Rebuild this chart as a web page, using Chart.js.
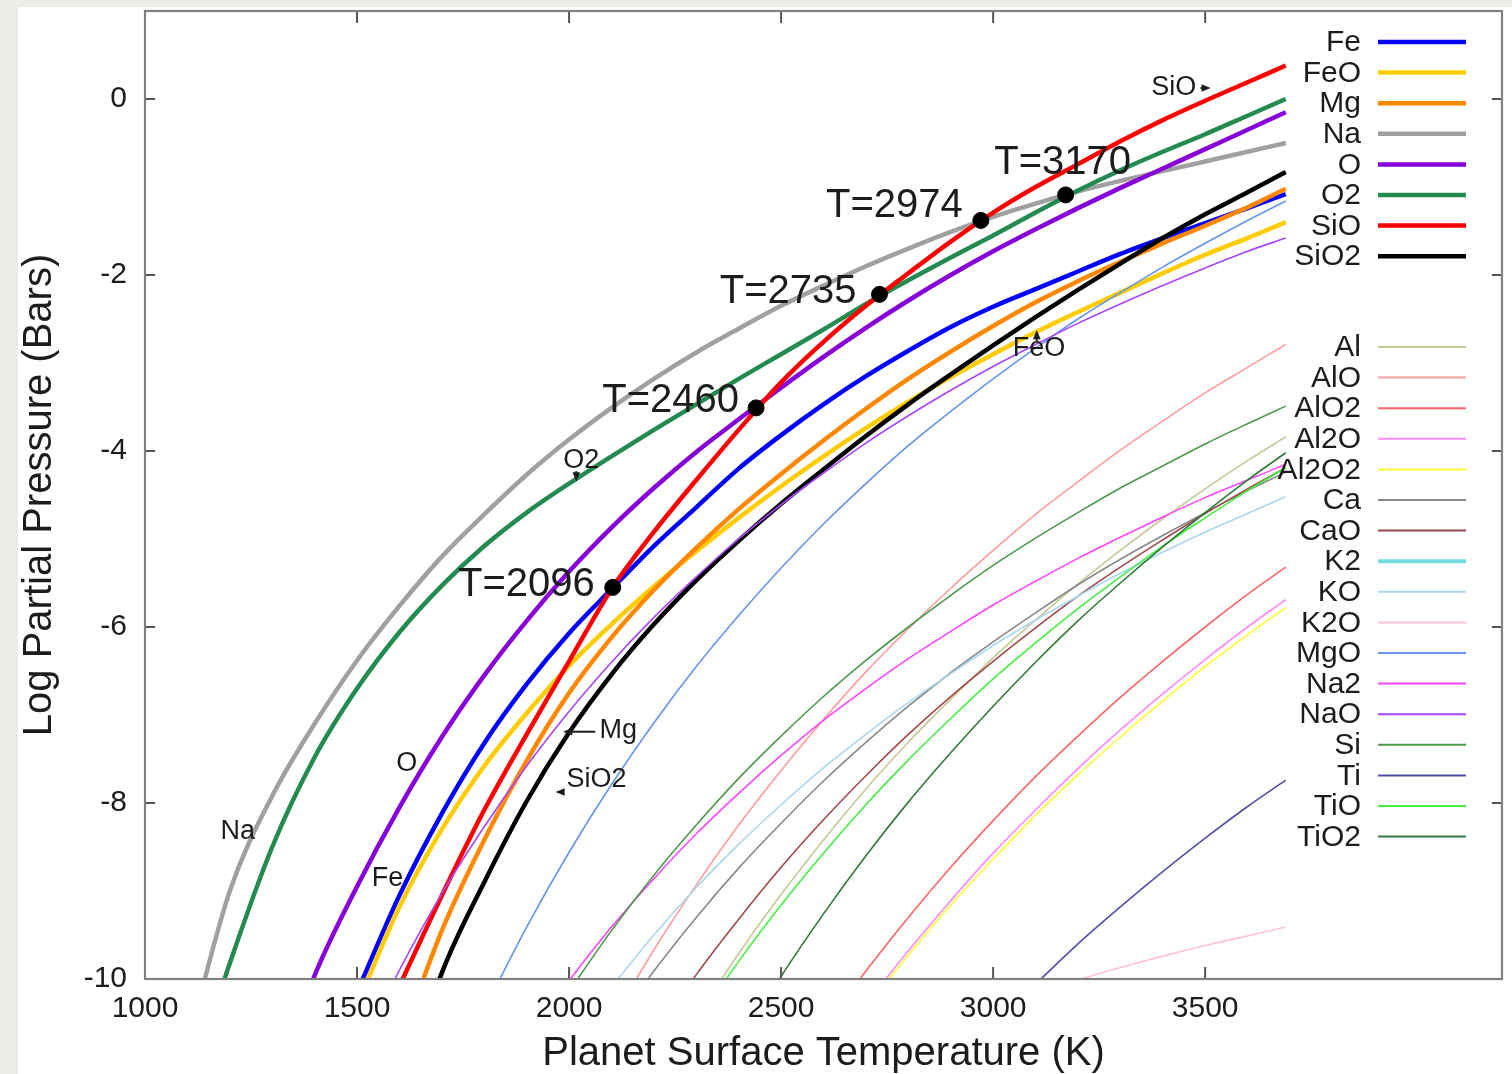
<!DOCTYPE html>
<html>
<head>
<meta charset="utf-8">
<script src="https://cdn.jsdelivr.net/npm/chart.js@4.4.0/dist/chart.umd.min.js"></script>
<style>
html,body{margin:0;padding:0;background:#ebebe7;overflow:hidden;}
canvas{display:block;position:absolute;left:0;top:0;}
</style>
</head>
<body>
<canvas id="c" width="1512" height="1074"></canvas>
<script>
// ---------------- DATA ----------------
const temperatures = [1100,1200,1300,1400,1500,1600,1700,1800,1900,2000,2100,2200,2300,2400,2500,2600,2700,2800,2900,3000,3100,3200,3300,3400,3500,3600,3690];

const feLogP   = [null,null,null,null,-10.15,-9.05,-8.12,-7.32,-6.65,-6.07,-5.57,-5.08,-4.64,-4.2,-3.82,-3.47,-3.15,-2.86,-2.59,-2.36,-2.16,-1.96,-1.76,-1.58,-1.41,-1.24,-1.08];
const feoLogP  = [null,null,null,null,-10.3,-9.18,-8.3,-7.58,-6.98,-6.44,-5.97,-5.54,-5.14,-4.76,-4.4,-4.06,-3.74,-3.44,-3.16,-2.9,-2.65,-2.42,-2.2,-1.98,-1.77,-1.58,-1.40];
const mgLogP   = [null,null,null,null,null,-10.75,-9.45,-8.42,-7.52,-6.75,-6.12,-5.58,-5.1,-4.66,-4.26,-3.88,-3.52,-3.18,-2.87,-2.58,-2.31,-2.07,-1.85,-1.64,-1.44,-1.23,-1.02];
const naLogP   = [-10.75,-9.0,-7.92,-7.1,-6.38,-5.76,-5.2,-4.72,-4.27,-3.87,-3.51,-3.18,-2.88,-2.61,-2.35,-2.12,-1.9,-1.7,-1.51,-1.34,-1.19,-1.05,-0.93,-0.82,-0.71,-0.6,-0.5];
const oLogP    = [null,null,-11.3,-9.96,-8.95,-8.05,-7.25,-6.55,-5.93,-5.37,-4.87,-4.42,-4.01,-3.64,-3.28,-2.93,-2.6,-2.29,-2.0,-1.73,-1.48,-1.24,-1.01,-0.79,-0.57,-0.35,-0.15];
const o2LogP   = [-11.3,-9.82,-8.5,-7.48,-6.7,-6.06,-5.53,-5.08,-4.7,-4.37,-4.06,-3.76,-3.47,-3.18,-2.9,-2.62,-2.33,-2.06,-1.8,-1.55,-1.29,-1.04,-0.81,-0.6,-0.4,-0.19,0.0];
const sioLogP  = [null,null,null,null,null,-10.08,-9.05,-8.08,-7.22,-6.39,-5.57,-4.92,-4.33,-3.76,-3.22,-2.76,-2.35,-1.98,-1.62,-1.29,-1.0,-0.74,-0.48,-0.24,-0.02,0.19,0.38];
const sio2LogP = [null,null,null,null,null,-11.4,-9.93,-8.9,-7.98,-7.2,-6.54,-5.97,-5.47,-5.02,-4.6,-4.21,-3.83,-3.47,-3.13,-2.8,-2.48,-2.17,-1.87,-1.58,-1.31,-1.06,-0.83];

const alLogP    = [null,null,null,null,null,null,null,null,null,null,null,null,-10.44,-9.71,-9.04,-8.42,-7.84,-7.31,-6.82,-6.35,-5.92,-5.51,-5.13,-4.77,-4.43,-4.11,-3.84];
const aloLogP   = [null,null,null,null,null,null,null,null,null,null,-10.48,-9.67,-8.93,-8.25,-7.63,-7.05,-6.51,-6.02,-5.56,-5.13,-4.72,-4.35,-3.99,-3.66,-3.34,-3.05,-2.79];
const alo2LogP  = [null,null,null,null,null,null,null,null,null,null,null,null,null,null,null,-10.57,-9.91,-9.3,-8.73,-8.2,-7.7,-7.24,-6.8,-6.39,-6.0,-5.63,-5.32];
const al2oLogP  = [null,null,null,null,null,null,null,null,null,null,null,null,null,null,null,null,-10.29,-9.68,-9.11,-8.57,-8.08,-7.61,-7.17,-6.76,-6.37,-6.0,-5.69];
const al2o2LogP = [null,null,null,null,null,null,null,null,null,null,null,null,null,null,null,null,-10.33,-9.73,-9.16,-8.64,-8.14,-7.68,-7.25,-6.84,-6.45,-6.09,-5.78];
const caLogP    = [null,null,null,null,null,null,null,null,null,null,-10.58,-9.91,-9.3,-8.74,-8.23,-7.75,-7.31,-6.9,-6.52,-6.17,-5.84,-5.52,-5.23,-4.96,-4.7,-4.45,-4.24];
const caoLogP   = [null,null,null,null,null,null,null,null,null,null,null,-10.65,-9.95,-9.32,-8.73,-8.19,-7.69,-7.22,-6.79,-6.39,-6.01,-5.65,-5.32,-5.01,-4.71,-4.43,-4.19];
const k2LogP    = [null,null,null,null,null,null,null,null,null,null,null,null,null,null,null,null,null,null,null,null,null,null,null,null,null,null,null];
const koLogP    = [null,null,null,null,null,null,null,null,null,null,-10.09,-9.5,-8.96,-8.47,-8.02,-7.6,-7.22,-6.86,-6.53,-6.21,-5.92,-5.65,-5.39,-5.15,-4.92,-4.71,-4.52];
const k2oLogP   = [null,null,null,null,null,null,null,null,null,null,null,null,null,null,null,null,null,null,null,null,null,-10.01,-9.87,-9.74,-9.62,-9.51,-9.41];
const mgoLogP   = [null,null,null,null,null,null,null,-10.35,-9.41,-8.56,-7.79,-7.09,-6.45,-5.87,-5.33,-4.83,-4.37,-3.94,-3.55,-3.18,-2.83,-2.5,-2.2,-1.91,-1.64,-1.38,-1.16];
const na2LogP   = [null,null,null,null,null,null,null,null,-10.69,-10.02,-9.41,-8.86,-8.35,-7.89,-7.46,-7.06,-6.7,-6.36,-6.05,-5.75,-5.48,-5.22,-4.98,-4.75,-4.53,-4.33,-4.15];
const naoLogP   = [null,null,null,null,-10.88,-9.9,-9.03,-8.27,-7.58,-6.96,-6.4,-5.89,-5.43,-5.0,-4.61,-4.25,-3.91,-3.6,-3.31,-3.04,-2.79,-2.55,-2.33,-2.12,-1.92,-1.73,-1.58];
const siLogP    = [null,null,null,null,null,null,null,null,null,-10.14,-9.45,-8.82,-8.25,-7.72,-7.24,-6.79,-6.38,-6.0,-5.64,-5.3,-4.99,-4.7,-4.42,-4.17,-3.92,-3.69,-3.49];
const tiLogP    = [null,null,null,null,null,null,null,null,null,null,null,null,null,null,null,null,null,null,null,null,-10.06,-9.6,-9.18,-8.78,-8.4,-8.04,-7.74];
const tioLogP   = [null,null,null,null,null,null,null,null,null,null,null,null,-10.5,-9.8,-9.16,-8.57,-8.02,-7.51,-7.04,-6.59,-6.18,-5.79,-5.43,-5.08,-4.76,-4.45,-4.19];
const tio2LogP  = [null,null,null,null,null,null,null,null,null,null,null,null,null,-10.74,-9.97,-9.26,-8.6,-7.99,-7.43,-6.9,-6.4,-5.93,-5.5,-5.09,-4.7,-4.33,-4.02];

// equilibrium points (SiO crossings)
const dotLabels = ['T=2096','T=2460','T=2735','T=2974','T=3170'];
const dotT      = [2103, 2441, 2732, 2971, 3171];
const dotLogP   = [-5.55, -3.51, -2.22, -1.38, -1.09];

// species tags on the plot
const tagNames  = ['Na','O','Fe','O2','Mg','SiO2','FeO','SiO'];
const tagT      = [1219, 1617, 1572, 2029, 2116, 2065, 3108, 3426];
const tagLogP   = [-8.32, -7.55, -8.86, -4.11, -7.18, -7.73, -2.84, 0.125];
const tagMarkT    = [null, null, null, 2017, 1991, 1973, 3103, 3508];
const tagMarkLogP = [null, null, null, -4.32, -7.19, -7.875, -2.65, 0.125];

const xTickValues = [1000,1500,2000,2500,3000,3500];
const yTickValues = [-10,-8,-6,-4,-2,0];

// ---------------- SERIES TABLE ----------------
const majorSeries = [
  ['Fe',feLogP,'#0000ff'],['FeO',feoLogP,'#ffcc00'],['Mg',mgLogP,'#ff8800'],['Na',naLogP,'#a0a0a0'],
  ['O',oLogP,'#8800d8'],['O2',o2LogP,'#238b50'],['SiO',sioLogP,'#ff0000'],['SiO2',sio2LogP,'#000000']
];
const minorSeries = [
  ['Al',alLogP,'#c8c894'],['AlO',aloLogP,'#ff9c9c'],['AlO2',alo2LogP,'#ff6464'],['Al2O',al2oLogP,'#ff88ff'],
  ['Al2O2',al2o2LogP,'#ffff30'],['Ca',caLogP,'#888888'],['CaO',caoLogP,'#a04848'],['K2',k2LogP,'#70dcdc'],
  ['KO',koLogP,'#a8d8f0'],['K2O',k2oLogP,'#ffc4d0'],['MgO',mgoLogP,'#6495ed'],['Na2',na2LogP,'#ff44ff'],
  ['NaO',naoLogP,'#aa44ff'],['Si',siLogP,'#4a9a4a'],['Ti',tiLogP,'#5050a8'],['TiO',tioLogP,'#44ee44'],
  ['TiO2',tio2LogP,'#2e7a3a']
];

const FONT = "'Liberation Sans', Arial, Helvetica, sans-serif";
const allSeries = majorSeries.map(s => ({name:s[0], vals:s[1], color:s[2], w:4.5, group:0}))
  .concat(minorSeries.map(s => ({name:s[0], vals:s[1], color:s[2], w:(s[0]==='K2'?4:1.6), group:1})));
const NS = allSeries.length;

const datasets = allSeries.map((s, i) => ({
  label: s.name,
  data: temperatures.map((t, j) => ({x: t, y: s.vals[j]})),
  borderColor: s.color,
  backgroundColor: s.color,
  borderWidth: s.w,
  pointRadius: 0,
  pointHoverRadius: 0,
  fill: false,
  cubicInterpolationMode: 'monotone',
  spanGaps: false,
  order: NS - i + 1
}));
datasets.push({
  label: 'points',
  data: dotT.map((t, i) => ({x: t, y: dotLogP[i]})),
  showLine: false,
  pointRadius: 8,
  pointBackgroundColor: '#000',
  pointBorderColor: '#000',
  borderColor: '#000',
  order: 0
});

// ---------------- PLUGINS ----------------
const backdrop = {
  id: 'backdrop',
  beforeDraw(chart) {
    const c = chart.ctx;
    c.save();
    c.fillStyle = '#ebebe7';
    c.fillRect(0, 0, chart.width, chart.height);
    c.fillStyle = '#ffffff';
    c.fillRect(18, 7, chart.width - 18, chart.height - 7);
    c.restore();
  }
};

const frame = {
  id: 'frame',
  afterDatasetsDraw(chart) {
    const c = chart.ctx, a = chart.chartArea;
    const xs = chart.scales.x, ys = chart.scales.y;
    c.save();
    c.strokeStyle = '#555';
    c.lineWidth = 2;
    xTickValues.forEach(v => {
      const px = xs.getPixelForValue(v);
      c.beginPath(); c.moveTo(px, a.bottom); c.lineTo(px, a.bottom - 12); c.stroke();
      c.beginPath(); c.moveTo(px, a.top); c.lineTo(px, a.top + 12); c.stroke();
    });
    yTickValues.forEach(v => {
      const py = ys.getPixelForValue(v);
      c.beginPath(); c.moveTo(a.left, py); c.lineTo(a.left + 10, py); c.stroke();
      c.beginPath(); c.moveTo(a.right, py); c.lineTo(a.right - 10, py); c.stroke();
    });
    c.strokeStyle = '#808080';
    c.lineWidth = 2.2;
    c.strokeRect(a.left, a.top, a.right - a.left, a.bottom - a.top);
    c.restore();
  }
};

function drawArrow(c, x, y, dir, stem) {
  const d = {up:[0,-1], down:[0,1], left:[-1,0], right:[1,0]}[dir];
  c.beginPath(); c.moveTo(x - d[0]*stem, y - d[1]*stem); c.lineTo(x, y); c.stroke();
  const s = 7, px = -d[1], py = d[0];
  c.beginPath();
  c.moveTo(x + d[0]*2, y + d[1]*2);
  c.lineTo(x - d[0]*s + px*s*0.55, y - d[1]*s + py*s*0.55);
  c.lineTo(x - d[0]*s - px*s*0.55, y - d[1]*s - py*s*0.55);
  c.closePath(); c.fill();
}

const notes = {
  id: 'notes',
  afterDraw(chart) {
    const c = chart.ctx, xs = chart.scales.x, ys = chart.scales.y;
    c.save();
    const off = [[-18,-2,'right'],[-17,-7,'right'],[-23,-2,'right'],[-18,-14,'right'],[-3,-32,'center']];
    c.font = '40px ' + FONT;
    c.fillStyle = '#1c1c1c';
    c.textBaseline = 'middle';
    dotLabels.forEach((txt, i) => {
      const px = xs.getPixelForValue(dotT[i]), py = ys.getPixelForValue(dotLogP[i]);
      c.textAlign = off[i][2];
      c.fillText(txt, px + off[i][0], py + off[i][1]);
    });
    c.font = '27px ' + FONT;
    c.textAlign = 'center';
    c.fillStyle = '#1c1c1c';
    c.strokeStyle = '#1c1c1c';
    c.lineWidth = 2;
    const dirs = [null,null,null,'down','left','left','up','right'];
    const stems = [0,0,0,8,30,5,9,8];
    tagNames.forEach((txt, i) => {
      c.fillText(txt, xs.getPixelForValue(tagT[i]), ys.getPixelForValue(tagLogP[i]));
      if (tagMarkT[i] !== null) {
        drawArrow(c, xs.getPixelForValue(tagMarkT[i]), ys.getPixelForValue(tagMarkLogP[i]), dirs[i], stems[i]);
      }
    });
    c.font = '30px ' + FONT;
    c.textAlign = 'right';
    c.textBaseline = 'middle';
    allSeries.forEach((s, i) => {
      const row = s.group === 0 ? i : i - majorSeries.length;
      const y = (s.group === 0 ? 42 : 347) + row * 30.6;
      c.fillStyle = '#1c1c1c';
      c.fillText(s.name, 1361, y + 1);
      c.strokeStyle = s.color;
      c.lineWidth = s.group === 0 ? 4.5 : (s.name === 'K2' ? 4 : 2);
      c.beginPath(); c.moveTo(1378, y); c.lineTo(1466, y); c.stroke();
    });
    c.restore();
  }
};

// ---------------- CHART ----------------
new Chart(document.getElementById('c'), {
  type: 'line',
  data: { datasets },
  options: {
    responsive: false,
    animation: false,
    events: [],
    layout: { padding: { left: 0, right: 10, top: 11, bottom: 0 } },
    elements: { line: { capBezierPoints: false } },
    plugins: { legend: { display: false }, tooltip: { enabled: false } },
    scales: {
      x: {
        type: 'linear', min: 1000, max: 4200,
        afterBuildTicks: s => { s.ticks = xTickValues.map(v => ({value: v})); },
        afterFit: s => { s.height = 95; s.paddingLeft = 0; s.paddingRight = 0; },
        grid: { display: false, drawTicks: false },
        border: { display: false },
        ticks: { font: { family: FONT, size: 30 }, color: '#1c1c1c', padding: 12, maxRotation: 0, autoSkip: false, callback: v => String(v) },
        title: { display: true, text: 'Planet Surface Temperature (K)', color: '#1c1c1c',
                 font: { family: FONT, size: 40, lineHeight: 1 }, padding: { top: 0, bottom: 0 } }
      },
      y: {
        type: 'linear', min: -10, max: 1,
        afterBuildTicks: s => { s.ticks = yTickValues.map(v => ({value: v})); },
        afterFit: s => { s.width = 145; s.paddingTop = 0; s.paddingBottom = 0; },
        grid: { display: false, drawTicks: false },
        border: { display: false },
        ticks: { font: { family: FONT, size: 30 }, color: '#1c1c1c', padding: 18, callback: v => String(v) },
        title: { display: true, text: 'Log Partial Pressure (Bars)', color: '#1c1c1c',
                 font: { family: FONT, size: 40, lineHeight: 1 }, padding: { top: 20, bottom: 0 } }
      }
    }
  },
  plugins: [backdrop, frame, notes]
});
</script>
</body>
</html>
